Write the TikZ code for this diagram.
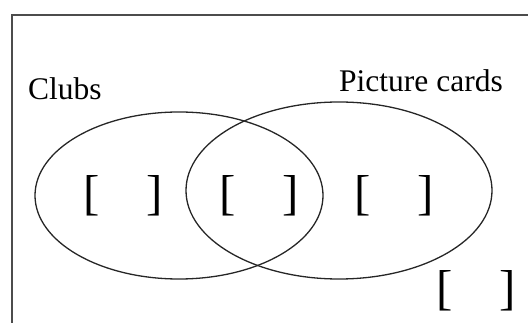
\documentclass[tikz,border=0pt]{standalone}
\usepackage{fontspec}
\setmainfont{Liberation Serif}
\begin{document}
\begin{tikzpicture}[x=1pt,y=-1pt,
  frame/.style={draw=black!70,line width=2pt},
  set/.style={draw=black!85,line width=1.3pt},
  label/.style={inner sep=0pt,anchor=base west,font=\fontsize{31.5}{36}\selectfont},
  slot/.style={inner sep=0pt,anchor=center,font=\fontsize{49}{56}\selectfont}]
\useasboundingbox (0,0) rectangle (528,323);
\coordinate (fb) at (12,323);
\coordinate (fc) at (12,15);
\coordinate (fr) at (528,15);
\draw[frame] (fb) -- (fc) -- (fr);
\draw[set] (179,195.5) ellipse [x radius=144, y radius=83.5];
\draw[set] (339,190.5) ellipse [x radius=153, y radius=88.5];
\node[label] (clubs) at (28,100) {Clubs};
\node[label] (pic) at (339,92) {Picture cards};
\node[slot] (s1) at (123.5,196) {[\hspace{47pt}]};
\node[slot] (s2) at (259,196) {[\hspace{47pt}]};
\node[slot] (s3) at (394,196) {[\hspace{47pt}]};
\node[slot] (s4) at (476,291) {[\hspace{47pt}]};
\end{tikzpicture}
\end{document}
